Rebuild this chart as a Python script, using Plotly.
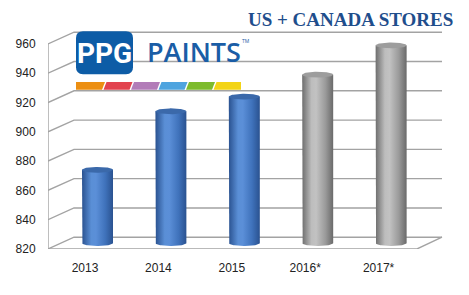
import numpy as np
import plotly.graph_objects as go

# ---------------- data ----------------
categories = ["2013", "2014", "2015", "2016*", "2017*"]
stores = [870, 910, 920, 935, 955]
projected = [False, False, False, True, True]
y_ticks = [820, 840, 860, 880, 900, 920, 940, 960]
title_text = "US + CANADA STORES"

# ---------------- geometry (pixels of a 469x295 canvas) ----------------
W, H = 469, 295
CAT_PX = 73.4          # pixels per category
BACK_C0_PX = 110.0     # category 0 centre on the back wall
UNIT_PX = 1.5          # pixels per store
BASE_PX = 243.0        # y pixel of value 820 on back wall
Y_MIN = 820
DEPTH_PX_X, DEPTH_PX_Y = -25.0, 12.0   # front plane offset from back wall
FRONT_DX = DEPTH_PX_X / CAT_PX
FRONT_DY = -DEPTH_PX_Y / UNIT_PX
MID_DX, MID_DY = FRONT_DX / 2, FRONT_DY / 2
BACK_LEFT = (74 - BACK_C0_PX) / CAT_PX
BACK_RIGHT = (442 - BACK_C0_PX) / CAT_PX

DOM_L_PX, DOM_B_PX = 48, 255
x_range = [(DOM_L_PX - BACK_C0_PX) / CAT_PX, (W - BACK_C0_PX) / CAT_PX]
y_range = [Y_MIN - (DOM_B_PX - BASE_PX) / UNIT_PX, Y_MIN + BASE_PX / UNIT_PX]
FRONT_LEFT = x_range[0]
FRONT_RIGHT = BACK_RIGHT + FRONT_DX

def px(x):
    return x / W

def py(y):
    return 1 - y / H

GRID = "#a3a3a3"
fig = go.Figure()

# side wall + back wall gridlines
for v in y_ticks:
    fig.add_trace(go.Scatter(
        x=[FRONT_LEFT, BACK_LEFT, BACK_RIGHT],
        y=[v + FRONT_DY, v, v],
        mode="lines", line=dict(color=GRID, width=1.4),
        hoverinfo="skip", showlegend=False))
# floor front edge + right edge
fig.add_trace(go.Scatter(
    x=[FRONT_LEFT, FRONT_RIGHT, BACK_RIGHT],
    y=[Y_MIN + FRONT_DY, Y_MIN + FRONT_DY, Y_MIN],
    mode="lines", line=dict(color=GRID, width=1.4),
    hoverinfo="skip", showlegend=False))
# front vertical axis line
fig.add_trace(go.Scatter(
    x=[FRONT_LEFT, FRONT_LEFT],
    y=[Y_MIN + FRONT_DY, y_ticks[-1] + FRONT_DY],
    mode="lines", line=dict(color=GRID, width=1.4),
    hoverinfo="skip", showlegend=False))

# cylinders
HALF_W = 15.5 / CAT_PX
RY = 2.0
t_bot = np.linspace(np.pi, 2 * np.pi, 40)
t_full = np.linspace(0, 2 * np.pi, 80)
blue_scale = [[0, "#2a5290"], [0.3, "#5a8fd6"], [0.45, "#5b8fd8"], [0.75, "#3f72bb"], [1, "#2a5290"]]
gray_scale = [[0, "#6e6e6e"], [0.3, "#bdbdbd"], [0.45, "#c2c2c2"], [0.75, "#9a9a9a"], [1, "#6a6a6a"]]
for i, (cat, v, proj) in enumerate(zip(categories, stores, projected)):
    cx = i + MID_DX
    base = Y_MIN + MID_DY
    top = v + MID_DY
    xs = [cx - HALF_W, cx - HALF_W] + list(cx + HALF_W * np.cos(t_bot)) + [cx + HALF_W, cx - HALF_W]
    ys = [top, base] + list(base + RY * np.sin(t_bot)) + [top, top]
    fig.add_trace(go.Scatter(
        x=xs, y=ys, mode="lines", fill="toself", line=dict(width=0),
        fillgradient=dict(type="horizontal", colorscale=gray_scale if proj else blue_scale),
        hoverinfo="skip", showlegend=False))
    fig.add_trace(go.Scatter(
        x=list(cx + HALF_W * np.cos(t_full)), y=list(top + RY * np.sin(t_full)),
        mode="lines", fill="toself", line=dict(width=0),
        fillcolor="#9d9d9d" if proj else "#3b69aa",
        name=cat, hovertemplate=f"{cat}: {v}<extra></extra>", showlegend=False))

# ---------------- logo ----------------
shapes = []
bx0, bx1, by0, by1, r = 76, 133, 32, 76, 7
path = (f"M {px(bx0+r)},{py(by0)} L {px(bx1-r)},{py(by0)} Q {px(bx1)},{py(by0)} {px(bx1)},{py(by0+r)} "
        f"L {px(bx1)},{py(by1-r)} Q {px(bx1)},{py(by1)} {px(bx1-r)},{py(by1)} "
        f"L {px(bx0+r)},{py(by1)} Q {px(bx0)},{py(by1)} {px(bx0)},{py(by1-r)} "
        f"L {px(bx0)},{py(by0+r)} Q {px(bx0)},{py(by0)} {px(bx0+r)},{py(by0)} Z")
shapes.append(dict(type="path", xref="paper", yref="paper", path=path,
                   fillcolor="#0d5ca6", line=dict(width=0), layer="above"))
stripe_colors = ["#ec8f12", "#e2434f", "#b27cb8", "#4ea4df", "#7dbb2d", "#f3d416"]
sx0, sx1, sy0, sy1 = 76, 241, 84, 92
seg = (sx1 - sx0) / len(stripe_colors)
slant, gap = 3, 1.5
for k, c in enumerate(stripe_colors):
    xl = sx0 + k * seg
    xr = xl + seg - gap
    bl = xl
    tl = xl if k == 0 else xl + slant
    last = k == len(stripe_colors) - 1
    br = sx1 if last else xr
    tr = sx1 if last else xr + slant
    p = f"M {px(bl)},{py(sy1)} L {px(tl)},{py(sy0)} L {px(tr)},{py(sy0)} L {px(br)},{py(sy1)} Z"
    shapes.append(dict(type="path", xref="paper", yref="paper", path=p,
                       fillcolor=c, line=dict(width=0), layer="above"))

annotations = [
    dict(text="<b>PPG</b>", x=px(104.5), y=py(55), xref="paper", yref="paper",
         showarrow=False, font=dict(family="Roboto", size=28, color="white"),
         xanchor="center", yanchor="middle"),
    dict(text="PAINTS", x=px(145), y=py(53), xref="paper", yref="paper",
         showarrow=False, font=dict(family="Open Sans", size=27, color="#1a5da6", weight=600),
         xanchor="left", yanchor="middle"),
    dict(text="TM", x=px(240), y=py(42), xref="paper", yref="paper",
         showarrow=False, font=dict(family="Open Sans", size=5, color="#1a5da6"),
         xanchor="left", yanchor="middle"),
    dict(text=f"<b>{title_text}</b>", x=px(455), y=py(20), xref="paper", yref="paper",
         showarrow=False, font=dict(family="Liberation Serif", size=19, color="#1f4e8c"),
         xanchor="right", yanchor="middle"),
]

fig.update_layout(
    width=W, height=H,
    margin=dict(l=0, r=0, t=0, b=0),
    paper_bgcolor="white", plot_bgcolor="rgba(0,0,0,0)",
    shapes=shapes, annotations=annotations,
    xaxis=dict(domain=[DOM_L_PX / W, 1], range=x_range, showgrid=False, zeroline=False,
               showline=False, tickmode="array",
               tickvals=[i + FRONT_DX for i in range(len(categories))], ticktext=categories,
               ticks="outside", ticklen=8, tickcolor="rgba(0,0,0,0)",
               tickfont=dict(family="Liberation Sans", size=12, color="#222")),
    yaxis=dict(domain=[1 - DOM_B_PX / H, 1], range=y_range, showgrid=False, zeroline=False,
               showline=False, tickmode="array",
               tickvals=[v + FRONT_DY for v in y_ticks], ticktext=[str(v) for v in y_ticks],
               ticks="outside", ticklen=9, tickcolor="rgba(0,0,0,0)",
               tickfont=dict(family="Liberation Sans", size=12, color="#222")),
    showlegend=False,
)

fig.write_html("out.html")
